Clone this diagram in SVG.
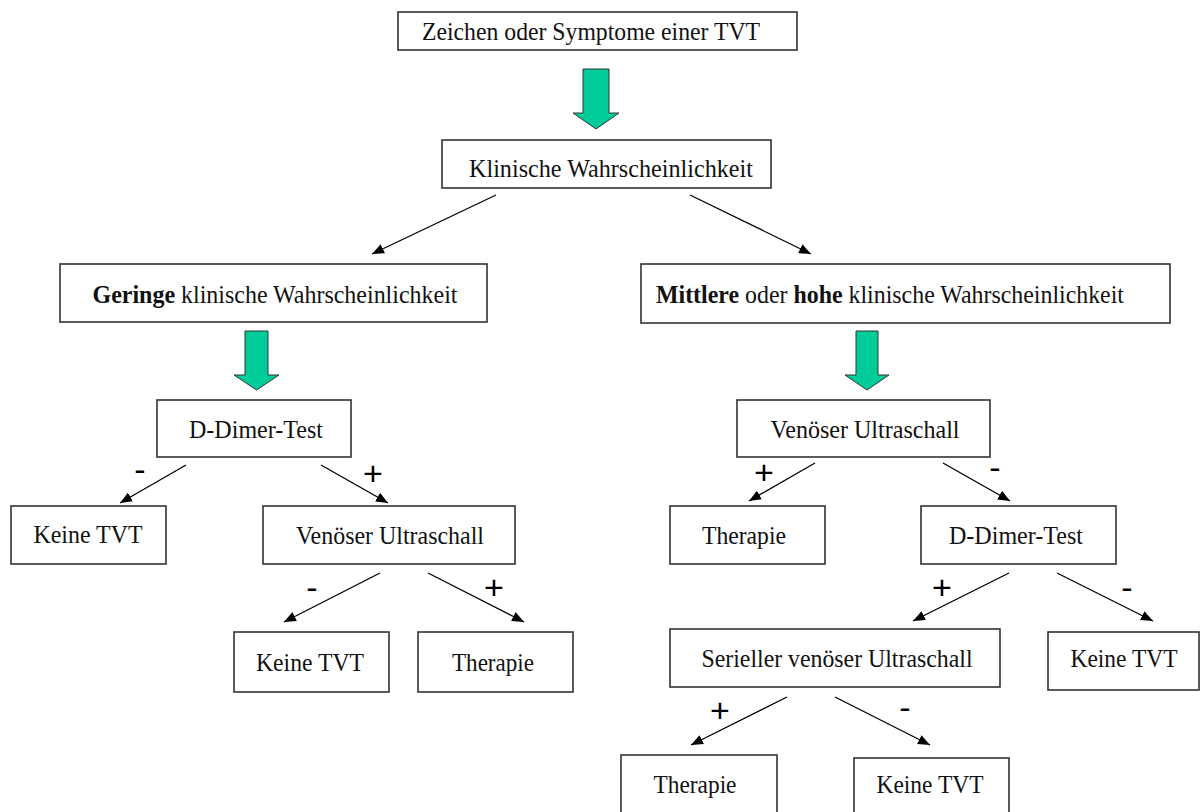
<svg xmlns="http://www.w3.org/2000/svg" width="1201" height="812" viewBox="0 0 1201 812">
<defs>
<marker id="ah" markerUnits="userSpaceOnUse" markerWidth="13" markerHeight="10" refX="12" refY="5" orient="auto">
<path d="M0,0 L12,5 L0,10 z" fill="#000"/>
</marker>
<style>
.box{fill:#fff;stroke:#333;stroke-width:1.6}
.t{font-family:"Liberation Serif","Times New Roman",serif;font-size:25px;fill:#111;text-anchor:middle}
.b{font-weight:bold}
.g{fill:#00CC99;stroke:#333;stroke-width:1}
.c{stroke:#000;stroke-width:1.3;fill:none;marker-end:url(#ah)}
.l{font-family:"Liberation Sans",Arial,sans-serif;font-size:34px;fill:#000;text-anchor:middle}
</style>
</defs>
<rect width="1201" height="812" fill="#fff"/>
<g id="n1"><rect class="box" x="398" y="12" width="399" height="38"/><text class="t" x="591" y="40" textLength="338" lengthAdjust="spacingAndGlyphs">Zeichen oder Symptome einer TVT</text></g>
<g id="n2"><rect class="box" x="442" y="140" width="329" height="48"/><text class="t" x="611" y="177" textLength="284" lengthAdjust="spacingAndGlyphs">Klinische Wahrscheinlichkeit</text></g>
<g id="n3"><rect class="box" x="60" y="264" width="427" height="58"/><text class="t" x="275" y="303" textLength="365" lengthAdjust="spacingAndGlyphs"><tspan class="b">Geringe</tspan> klinische Wahrscheinlichkeit</text></g>
<g id="n4"><rect class="box" x="641" y="264" width="529" height="59"/><text class="t" x="890" y="303" textLength="468" lengthAdjust="spacingAndGlyphs"><tspan class="b">Mittlere</tspan> oder <tspan class="b">hohe</tspan> klinische Wahrscheinlichkeit</text></g>
<g id="n5"><rect class="box" x="157" y="400" width="194" height="57"/><text class="t" x="256" y="438" textLength="134" lengthAdjust="spacingAndGlyphs">D-Dimer-Test</text></g>
<g id="n6"><rect class="box" x="737" y="400" width="253" height="57"/><text class="t" x="865" y="438" textLength="189" lengthAdjust="spacingAndGlyphs">Venöser Ultraschall</text></g>
<g id="n7"><rect class="box" x="11" y="506" width="155" height="58"/><text class="t" x="88" y="543" textLength="109" lengthAdjust="spacingAndGlyphs">Keine TVT</text></g>
<g id="n8"><rect class="box" x="263" y="506" width="252" height="58"/><text class="t" x="390" y="544" textLength="188" lengthAdjust="spacingAndGlyphs">Venöser Ultraschall</text></g>
<g id="n9"><rect class="box" x="670" y="506" width="155" height="58"/><text class="t" x="744" y="544" textLength="84" lengthAdjust="spacingAndGlyphs">Therapie</text></g>
<g id="n10"><rect class="box" x="921" y="506" width="195" height="58"/><text class="t" x="1016" y="544" textLength="134" lengthAdjust="spacingAndGlyphs">D-Dimer-Test</text></g>
<g id="n11"><rect class="box" x="234" y="632" width="155" height="60"/><text class="t" x="310" y="671" textLength="108" lengthAdjust="spacingAndGlyphs">Keine TVT</text></g>
<g id="n12"><rect class="box" x="418" y="632" width="155" height="60"/><text class="t" x="493" y="671" textLength="82" lengthAdjust="spacingAndGlyphs">Therapie</text></g>
<g id="n13"><rect class="box" x="670" y="629" width="330" height="58"/><text class="t" x="837" y="667" textLength="271" lengthAdjust="spacingAndGlyphs">Serieller venöser Ultraschall</text></g>
<g id="n14"><rect class="box" x="1048" y="632" width="151" height="58"/><text class="t" x="1124" y="667" textLength="107" lengthAdjust="spacingAndGlyphs">Keine TVT</text></g>
<g id="n15"><rect class="box" x="621" y="755" width="156" height="62"/><text class="t" x="695" y="793" textLength="83" lengthAdjust="spacingAndGlyphs">Therapie</text></g>
<g id="n16"><rect class="box" x="854" y="758" width="155" height="62"/><text class="t" x="930" y="793" textLength="107" lengthAdjust="spacingAndGlyphs">Keine TVT</text></g>
<g id="connectors">
<polygon class="g" points="583,69 609,69 609,113 619,113 596,129 573,113 583,113"/>
<polygon class="g" points="245,331 268,331 268,375 279,375 256.5,390 234,375 245,375"/>
<polygon class="g" points="856,331 878,331 878,375 889,375 867,390 845,375 856,375"/>
<line class="c" x1="496" y1="195" x2="372" y2="254"/>
<line class="c" x1="690" y1="195" x2="811" y2="254"/>
<line class="c" x1="186" y1="465" x2="120" y2="503"/>
<line class="c" x1="321" y1="465" x2="388" y2="503"/>
<line class="c" x1="380" y1="573" x2="284" y2="622"/>
<line class="c" x1="428" y1="573" x2="524" y2="622"/>
<line class="c" x1="815" y1="463" x2="749" y2="501"/>
<line class="c" x1="943" y1="463" x2="1010" y2="501"/>
<line class="c" x1="1009" y1="573" x2="913" y2="621"/>
<line class="c" x1="1057" y1="573" x2="1153" y2="621"/>
<line class="c" x1="787" y1="697" x2="691" y2="745"/>
<line class="c" x1="835" y1="697" x2="930" y2="745"/>
<text class="l" x="140" y="481">-</text>
<text class="l" x="373" y="485">+</text>
<text class="l" x="312" y="599">-</text>
<text class="l" x="494" y="599">+</text>
<text class="l" x="764" y="484">+</text>
<text class="l" x="995" y="479">-</text>
<text class="l" x="942" y="599">+</text>
<text class="l" x="1127" y="599">-</text>
<text class="l" x="720" y="722">+</text>
<text class="l" x="905" y="719">-</text>
</g>
</svg>
